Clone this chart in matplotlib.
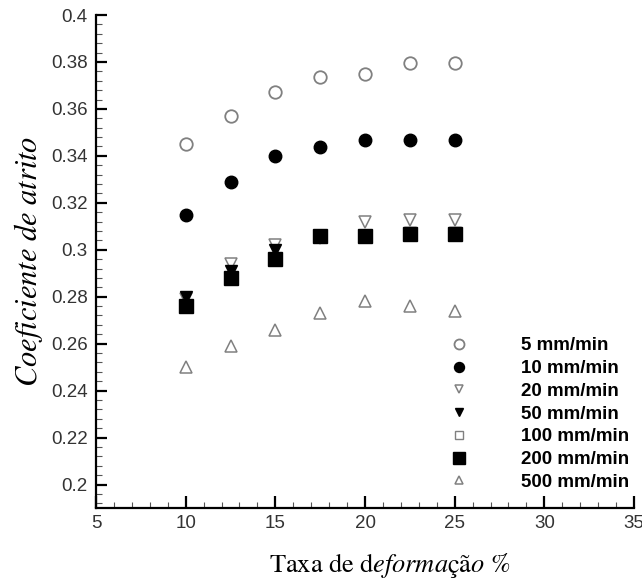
import numpy as np
import matplotlib.pyplot as plt
from matplotlib.ticker import MultipleLocator

plt.rcParams['font.family'] = ['Liberation Sans', 'DejaVu Sans']
plt.rcParams['mathtext.fontset'] = 'stix'

# Dados
taxa = [10, 12.5, 15, 17.5, 20, 22.5, 25]
v5 = [0.345, 0.357, 0.367, 0.3736, 0.3747, 0.3797, 0.3797]
v10 = [0.315, 0.329, 0.340, 0.3436, 0.3467, 0.3467, 0.3467]
v20 = [0.279, 0.294, 0.302, 0.305, 0.312, 0.3126, 0.3126]
v50 = [0.280, 0.291, 0.300, 0.306, 0.306, 0.307, 0.307]
v100 = [0.276, 0.288, 0.296, 0.306, 0.3057, 0.3068, 0.3068]
v200 = [0.276, 0.288, 0.296, 0.306, 0.3057, 0.3068, 0.3068]
v500 = [0.250, 0.259, 0.266, 0.273, 0.278, 0.276, 0.274]
labels = ['5 mm/min', '10 mm/min', '20 mm/min', '50 mm/min',
          '100 mm/min', '200 mm/min', '500 mm/min']

fig = plt.figure(figsize=(6.42, 5.83), dpi=100)
ax = fig.add_axes([96/642, 1-508/583, (634-96)/642, (508-15)/583])

gray = '#808080'
ax.plot(taxa, v5, 'o', ms=9, mfc='white', mec=gray, mew=1.3, ls='none', label=labels[0])
ax.plot(taxa, v10, 'o', ms=9, mfc='black', mec='black', ls='none', label=labels[1])
ax.plot(taxa, v20, 'v', ms=8, mfc='white', mec=gray, mew=1.1, ls='none', label=labels[2])
ax.plot(taxa, v50, 'v', ms=8, mfc='black', mec='black', ls='none', label=labels[3])
ax.plot(taxa, v100, 's', ms=8, mfc='white', mec=gray, mew=1.0, ls='none', label=labels[4])
ax.plot(taxa, v200, 's', ms=10, mfc='black', mec='black', ls='none', label=labels[5])
ax.plot(taxa, v500, '^', ms=8, mfc='white', mec=gray, mew=1.1, ls='none', label=labels[6])

ax.set_xlim(5, 35)
ax.set_ylim(0.19, 0.4)
ax.xaxis.set_major_locator(MultipleLocator(5))
ax.xaxis.set_minor_locator(MultipleLocator(1))
ax.yaxis.set_minor_locator(MultipleLocator(0.004))
ax.set_yticks(np.arange(0.2, 0.401, 0.02))
ax.set_yticklabels(['0.2', '0.22', '0.24', '0.26', '0.28', '0.3',
                    '0.32', '0.34', '0.36', '0.38', '0.4'])

for s in ['top', 'right']:
    ax.spines[s].set_visible(False)
for s in ['left', 'bottom']:
    ax.spines[s].set_linewidth(1.6)
ax.tick_params(which='major', direction='in', length=8, width=1.6,
               labelsize=13.5, labelcolor='#333333', pad=6)
ax.tick_params(which='minor', direction='in', length=4, width=0.8, color='#555555')
ax.tick_params(axis='x', which='major', length=9, pad=5)

ax.set_ylabel(r'$Coeficiente\ de\ atrito$', fontsize=22, labelpad=4)
fig.text(390/642, 1-566/583, r'$\mathrm{Taxa\ de\ d}eforma\mathrm{ç}\mathrm{ã}o\ \mathrm{\%}$',
         fontsize=19, ha='center', va='center')

leg = ax.legend(loc='lower right', bbox_to_anchor=(642/642, 1-504/583),
                bbox_transform=fig.transFigure, frameon=False,
                prop={'weight': 'bold', 'size': 13.5}, markerscale=0.8,
                handlelength=1.0, handletextpad=2.8, labelspacing=0.3,
                borderpad=0.2)

fig.savefig('out.png', dpi=100)
